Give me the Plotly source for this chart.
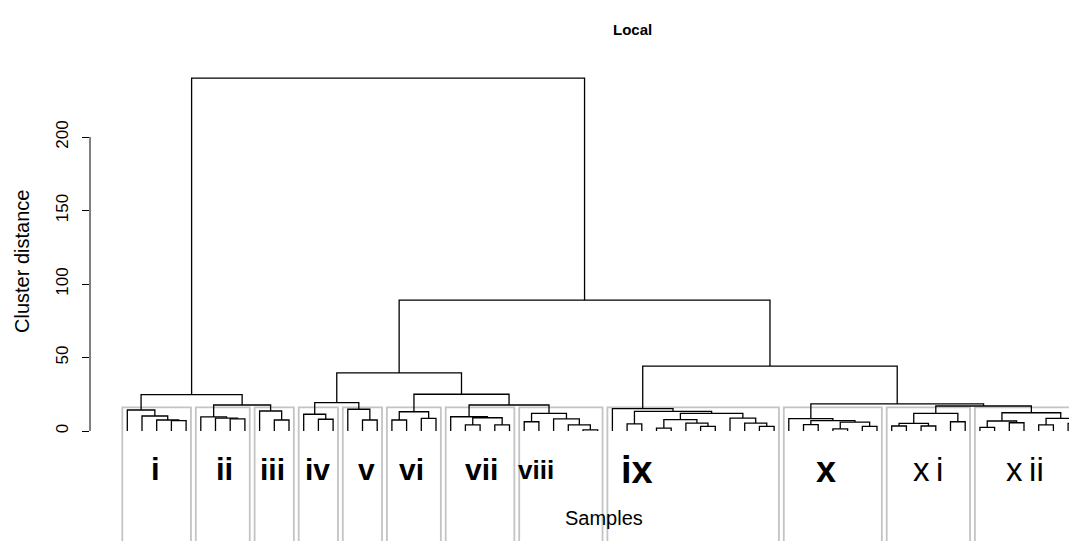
import plotly.graph_objects as go

# ---------------- data ----------------
n_leaves = 66
# merge steps (R-style): negative = leaf position, positive = earlier merge step (1-based)
merge_left = [-4, -3, -2, -1, -8, -7, -6, -11, -10, 7, 4, -14, -13, -17, -16, 13,
              -19, -21, 17, -24, -26, 20, -23, -28, -32, -31, -30, 24, 23, 19, 16,
              -35, -37, -40, -39, 33, -44, -43, -42, 36, 32, -34, -47, -49, -51, 44,
              43, -46, -53, -55, 49, -57, 51, -59, -61, 54, -63, -65, 57, 56, 53, 48,
              42, 31, 11]
merge_right = [-5, 1, 2, 3, -9, 5, 6, -12, 8, 9, 10, -15, 12, -18, 14, 15,
               -20, -22, 18, -25, -27, 21, 22, -29, -33, 25, 26, 27, 28, 29, 30,
               -36, -38, -41, 34, 35, -45, 37, 38, 39, 40, 41, -48, -50, -52, 45,
               46, 47, -54, -56, 50, -58, 52, -60, -62, 55, -64, -66, 58, 59, 60, 61,
               62, 63, 64]
merge_height = [7.0, 7.5, 10.2, 14.3, 8.3, 8.8, 9.6, 7.5, 13.6, 17.7, 24.7, 8.0, 11.4,
                7.5, 14.8, 19.3, 7.5, 8.6, 13.1, 4.1, 4.1, 9.0, 9.7, 6.3, 0.7, 4.1, 8.2,
                12.0, 17.7, 25.0, 39.5, 4.8, 2.0, 3.2, 5.4, 7.7, 3.2, 5.4, 8.8, 12.0,
                13.4, 15.2, 4.3, 1.5, 3.2, 6.1, 7.0, 8.4, 3.4, 3.4, 5.2, 6.3, 12.0, 2.5,
                5.6, 6.8, 4.1, 5.2, 8.6, 12.4, 17.0, 18.4, 44.2, 89.0, 240.0]
n_clusters = 12
cluster_names = ["i", "ii", "iii", "iv", "v", "vi", "vii", "viii", "ix", "x", "xi", "xii"]
y_tick_values = [0, 50, 100, 150, 200]
title_text = "Local"
x_title = "Samples"
y_title = "Cluster distance"

# label styling/placement as in the reference (leaf units)
label_x = [2.9, 7.6, 10.85, 13.95, 17.3, 20.35, 25.1, 28.8, 35.65, 48.55, 55.5, 62.1]
label_bold = [True] * 10 + [False, False]
label_size = [31, 31, 30, 30, 30, 30, 30, 26, 38, 36, 33, 33]
label_y = -26.5

# ---------------- geometry ----------------
def node_x(ref, xs):
    return float(-ref) if ref < 0 else xs[ref - 1]

def node_h(ref):
    return 0.0 if ref < 0 else merge_height[ref - 1]

xs = []
lx, ly = [], []
for i, (a, b) in enumerate(zip(merge_left, merge_right)):
    xa, xb = node_x(a, xs), node_x(b, xs)
    h = merge_height[i]
    lx += [xa, xa, xb, xb, None]
    ly += [node_h(a), h, h, node_h(b), None]
    xs.append((xa + xb) / 2)

desc = sorted(merge_height, reverse=True)
cut = (desc[n_clusters - 2] + desc[n_clusters - 1]) / 2

def leaves_of(ref):
    if ref < 0:
        return [-ref]
    return leaves_of(merge_left[ref - 1]) + leaves_of(merge_right[ref - 1])

clusters = []
def collect(ref):
    if node_h(ref) <= cut:
        clusters.append(leaves_of(ref))
    else:
        collect(merge_left[ref - 1])
        collect(merge_right[ref - 1])
collect(len(merge_height))

bx, by = [], []
for lv in clusters:
    x0, x1 = min(lv) - 0.34, max(lv) + 0.33
    bx += [x0, x0, x1, x1, x0, None]
    by += [-200, cut, cut, -200, -200, None]

fig = go.Figure()
fig.add_trace(go.Scatter(x=bx, y=by, mode="lines", line=dict(color="#C4C4C4", width=1.8),
                         hoverinfo="skip", showlegend=False))
fig.add_trace(go.Scatter(x=lx, y=ly, mode="lines", line=dict(color="black", width=1.3),
                         hoverinfo="skip", showlegend=False))

# page offset of the plot div (browser body margin)
OFF = 8
W, H = 1077 - OFF, 541 - OFF
L, T = 90 - OFF, 40 - OFF
PW, PH = W - L, H - T

def px_x(p):
    return (p - OFF - L) / PW

def px_y(p):
    return (H - (p - OFF)) / PH

FONT = "Liberation Sans, Arial, sans-serif"
ann = []
for name, x, b, s in zip(cluster_names, label_x, label_bold, label_size):
    txt = f"<b>{name}</b>" if b else name[0] + "\u2009" + name[1:]
    ann.append(dict(x=x, y=label_y, xref="x", yref="y", text=txt,
                    showarrow=False, font=dict(family=FONT, size=s, color="black"),
                    xanchor="center", yanchor="middle"))
ann.append(dict(x=px_x(632), y=px_y(29), xref="paper", yref="paper",
                text=f"<b>{title_text}</b>", showarrow=False,
                font=dict(family=FONT, size=15, color="black"), xanchor="center", yanchor="middle"))
ann.append(dict(x=px_x(604), y=px_y(518), xref="paper", yref="paper",
                text=x_title, showarrow=False,
                font=dict(family=FONT, size=20, color="black"), xanchor="center", yanchor="middle"))
ann.append(dict(x=px_x(22), y=px_y(262), xref="paper", yref="paper",
                text=y_title, showarrow=False, textangle=-90,
                font=dict(family=FONT, size=20, color="black"), xanchor="center", yanchor="middle"))

sp = 14.70
fig.update_layout(
    width=W, height=H,
    margin=dict(l=L, r=0, t=T, b=0, pad=0),
    paper_bgcolor="white", plot_bgcolor="white",
    xaxis=dict(range=[1 + (90 - 127.3) / sp, 1 + (1077 - 127.3) / sp], visible=False),
    yaxis=dict(range=[(431 - 541) / 1.47, (431 - 40) / 1.47], tickvals=y_tick_values,
               ticks="outside", ticklen=7, tickwidth=1, tickcolor="black",
               tickangle=-90, showgrid=False, zeroline=False, showline=False,
               ticklabelstandoff=7,
               tickfont=dict(family=FONT, size=17, color="black")),
    annotations=ann,
    shapes=[dict(type="line", xref="paper", yref="y", x0=0, x1=0, y0=0, y1=200,
                 line=dict(color="black", width=1))],
)
fig.write_html("out.html")
